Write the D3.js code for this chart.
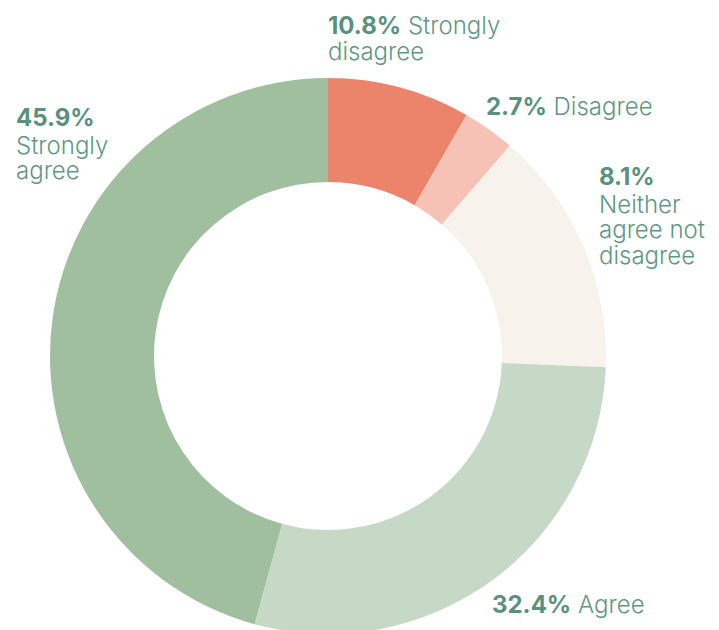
<!DOCTYPE html>
<html>
<head>
<meta charset="utf-8">
<script src="https://cdn.jsdelivr.net/npm/d3@7"></script>
<style>
  body { margin: 0; background: #fff; }
  svg { display: block; }
  text { font-family: Inter, "Open Sans", sans-serif; fill: #5f9885; }
</style>
</head>
<body>
<svg id="svg" width="719" height="630"></svg>
<script>
// categories, clockwise from 12 o'clock
var categories = ["Strongly disagree", "Disagree", "Neither agree not disagree", "Agree", "Strongly agree"];
// percentages printed in the labels
var labelPercents = ["10.8%", "2.7%", "8.1%", "32.4%", "45.9%"];
// slice sizes as drawn in the picture (share of the ring)
var sliceShares = [8.3, 3.05, 14.3, 28.6, 45.75];
var colors = ["#ec836b", "#f5c2b5", "#f8f2ec", "#c5d9c6", "#9fbf9f"];
// label text lines (first line starts with the bold percent)
var labelLines = [
  ["Strongly", "disagree"],
  ["Disagree"],
  ["", "Neither", "agree not", "disagree"],
  ["Agree"],
  ["", "Strongly", "agree"]
];
var labelPos = [[328, 34], [486, 115], [599, 185], [492, 613], [16, 126]];

var svg = d3.select("#svg");
var cx = 328, cy = 356, outerR = 278, innerR = 174;

var pie = d3.pie().sort(null).value(function(d) { return d; });
var arc = d3.arc().innerRadius(innerR).outerRadius(outerR);

var g = svg.append("g").attr("transform", "translate(" + cx + "," + cy + ")");
g.selectAll("path")
  .data(pie(sliceShares))
  .enter().append("path")
  .attr("d", arc)
  .attr("fill", function(d, i) { return colors[i]; });

categories.forEach(function(c, i) {
  var t = svg.append("text")
    .attr("x", labelPos[i][0])
    .attr("y", labelPos[i][1])
    .attr("font-size", 24);
  var lines = labelLines[i];
  lines.forEach(function(l, j) {
    var ts = t.append("tspan");
    // a bit more room under a percent-only line
    if (j > 0) ts.attr("x", labelPos[i][0]).attr("dy", (j === 1 && !lines[0]) ? 27.5 : 25.5);
    if (j === 0) {
      ts.append("tspan").attr("font-weight", 700).attr("fill", "#5a917e").text(labelPercents[i]);
      if (l) ts.append("tspan").attr("font-weight", 300).text(" " + l);
    } else {
      ts.attr("font-weight", 300).text(l);
    }
  });
});
</script>
</body>
</html>
